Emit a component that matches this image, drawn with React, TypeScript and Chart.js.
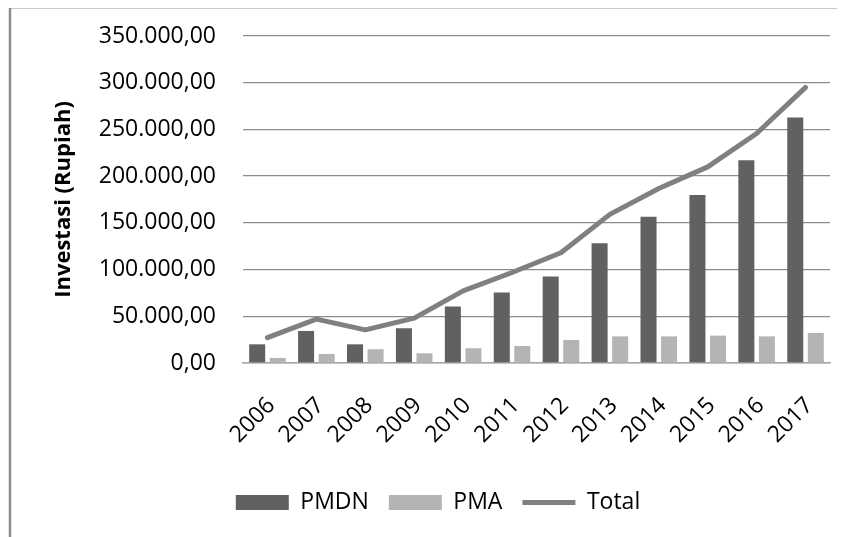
import React, { useEffect, useRef } from 'react';
import { Chart, registerables } from 'chart.js';

Chart.register(...registerables);

const years = ['2006', '2007', '2008', '2009', '2010', '2011', '2012', '2013', '2014', '2015', '2016', '2017'];
const pmdn = [20000, 34300, 20000, 37200, 60400, 75400, 92600, 128300, 156600, 179800, 217000, 262900];
const pma = [5400, 9700, 14700, 10400, 15800, 18200, 24700, 28500, 28500, 29300, 28500, 32200];
const total = [27100, 46900, 35400, 48000, 77200, 96900, 118000, 159100, 186700, 209900, 245700, 295000];
const yMin = 0;
const yMax = 350000;
const yStep = 50000;
const yTitle = 'Investasi (Rupiah)';

const FONT = '"Open Sans", sans-serif';

function fmt(v: number): string {
  const s = Math.round(v).toString().replace(/\B(?=(\d{3})+(?!\d))/g, '.');
  return s + ',00';
}

const frame = {
  id: 'frame',
  beforeDraw(chart: any) {
    const { ctx, width, height } = chart;
    ctx.save();
    ctx.fillStyle = '#ffffff';
    ctx.fillRect(0, 0, width, height);
    ctx.strokeStyle = '#8c8c8c';
    ctx.lineWidth = 2.5;
    ctx.strokeRect(2, 1.2, width - 6, height + 20);
    ctx.restore();
  },
};

export default function App() {
  const ref = useRef<HTMLCanvasElement>(null);
  useEffect(() => {
    const chart = new Chart(ref.current as HTMLCanvasElement, {
      type: 'bar',
      data: {
        labels: years,
        datasets: [
          {
            type: 'bar',
            label: 'PMDN',
            data: pmdn,
            backgroundColor: '#616161',
            borderWidth: 0,
            pointStyle: 'rect',
            order: 1,
            categoryPercentage: 0.84,
            barPercentage: 0.78,
          } as any,
          {
            type: 'bar',
            label: 'PMA',
            data: pma,
            backgroundColor: '#b4b4b4',
            borderWidth: 0,
            pointStyle: 'rect',
            order: 1,
            categoryPercentage: 0.84,
            barPercentage: 0.78,
          } as any,
          {
            type: 'line',
            label: 'Total',
            data: total,
            borderColor: '#808080',
            backgroundColor: '#808080',
            borderWidth: 5,
            pointRadius: 0,
            pointStyle: 'line',
            borderCapStyle: 'round',
            borderJoinStyle: 'round',
            tension: 0,
            order: 0,
          } as any,
        ],
      },
      options: {
        responsive: false,
        animation: false,
        layout: { padding: { left: 38, right: 38, top: 30, bottom: 13 } },
        plugins: {
          legend: {
            position: 'bottom',
            labels: {
              usePointStyle: true,
              pointStyleWidth: 53,
              boxHeight: 15,
              padding: 20,
              color: '#000000',
              font: { family: FONT, size: 23 },
              sort: (a: any, b: any) => a.datasetIndex - b.datasetIndex,
            },
          },
          tooltip: { enabled: false },
        },
        scales: {
          x: {
            grid: { display: false },
            border: { display: true, color: '#a6a6a6', width: 1.5 },
            ticks: {
              minRotation: 45,
              maxRotation: 45,
              autoSkip: false,
              padding: 21,
              labelOffset: 4,
              color: '#000000',
              font: { family: FONT, size: 23 },
            },
            afterFit: (s: any) => {
              s.height = 108;
            },
          },
          y: {
            min: yMin,
            max: yMax,
            ticks: {
              stepSize: yStep,
              padding: 27,
              color: '#000000',
              font: { family: FONT, size: 23 },
              callback: (v: any) => fmt(Number(v)),
            },
            grid: { color: '#8c8c8c', lineWidth: 1.3, drawTicks: false },
            border: { display: false },
            title: {
              display: true,
              text: yTitle,
              color: '#000000',
              font: { family: FONT, size: 22, weight: 'bold' },
              padding: { top: 5, bottom: 0 },
            },
            afterFit: (s: any) => {
              s.width = 197;
              s.paddingTop = 14;
              s.paddingBottom = 14;
            },
          },
        },
      },
      plugins: [frame],
    });
    return () => chart.destroy();
  }, []);
  return (
    <div style={{ width: 837, height: 531, overflow: 'hidden', marginTop: -2 }}>
      <canvas ref={ref} width={860} height={531} style={{ display: 'block' }} />
    </div>
  );
}
